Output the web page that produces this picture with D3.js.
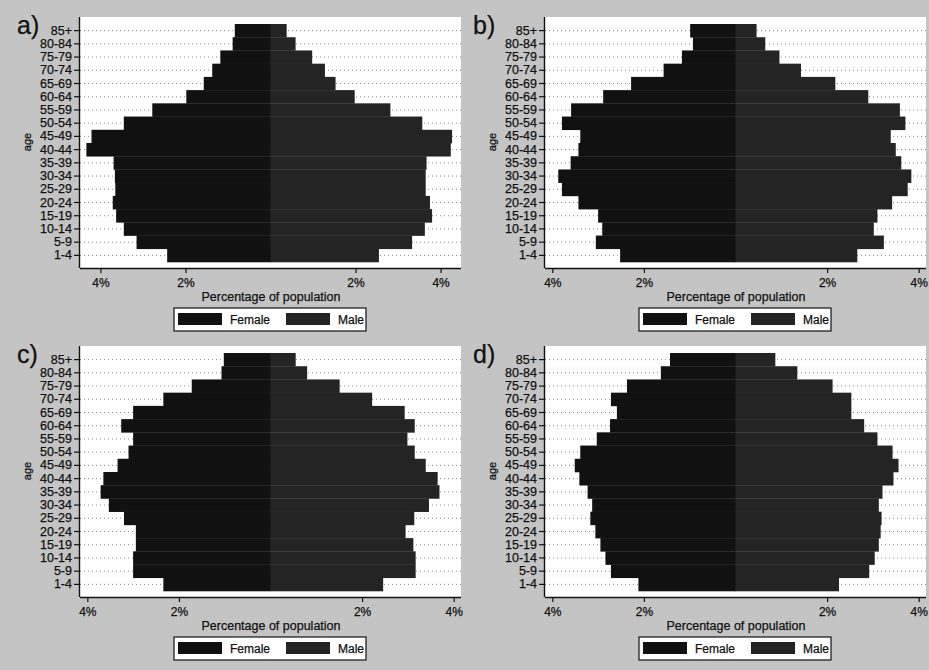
<!DOCTYPE html>
<html>
<head>
<meta charset="utf-8">
<script src="https://cdn.jsdelivr.net/npm/d3@7/dist/d3.min.js"></script>
<style>
  body { margin: 0; background: #c4c4c4; }
  text { font-family: "Liberation Sans", Arial, sans-serif; fill: #111; stroke: #111; stroke-width: 0.25px; }
</style>
</head>
<body>
<div id="chart"></div>
<script>
"use strict";

// age groups, youngest first
var ageGroups = ["1-4","5-9","10-14","15-19","20-24","25-29","30-34","35-39","40-44",
  "45-49","50-54","55-59","60-64","65-69","70-74","75-79","80-84","85+"];

// percentage of population per age group
var femaleA = [2.43,3.15,3.45,3.63,3.71,3.65,3.66,3.69,4.33,4.21,3.45,2.78,1.98,1.57,1.37,1.18,0.89,0.84];
var maleA   = [2.55,3.33,3.63,3.80,3.75,3.65,3.65,3.67,4.24,4.27,3.57,2.82,1.98,1.53,1.28,0.98,0.59,0.38];
var femaleB = [2.52,3.05,2.91,3.00,3.43,3.79,3.87,3.60,3.43,3.39,3.79,3.59,2.89,2.28,1.57,1.17,0.93,0.99];
var maleB   = [2.66,3.24,3.02,3.10,3.42,3.76,3.84,3.62,3.50,3.39,3.71,3.59,2.90,2.18,1.43,0.96,0.65,0.46];
var femaleC = [2.34,3.00,3.00,2.94,2.94,3.20,3.53,3.71,3.65,3.34,3.10,3.00,3.26,3.00,2.34,1.72,1.07,1.02];
var maleC   = [2.46,3.17,3.17,3.12,2.95,3.14,3.46,3.69,3.65,3.39,3.15,2.99,3.15,2.93,2.22,1.51,0.80,0.55];
var femaleD = [2.12,2.72,2.84,2.95,3.06,3.17,3.13,3.23,3.41,3.51,3.39,3.03,2.74,2.59,2.72,2.37,1.63,1.43];
var maleD   = [2.26,2.92,3.04,3.13,3.17,3.19,3.13,3.21,3.45,3.56,3.43,3.10,2.81,2.53,2.53,2.12,1.35,0.87];

var xTicks = [-4, -2, 2, 4];
var panelLabels = ["a)", "b)", "c)", "d)"];
var legendLabels = ["Female", "Male"];

var panels = [
  {label: panelLabels[0], female: femaleA, male: maleA, ox: 0,   oy: 0,   lim: 4.48, lx: 17},
  {label: panelLabels[1], female: femaleB, male: maleB, ox: 465, oy: 0,   lim: 4.16, lx: 8},
  {label: panelLabels[2], female: femaleC, male: maleC, ox: 0,   oy: 329, lim: 4.16, lx: 17},
  {label: panelLabels[3], female: femaleD, male: maleD, ox: 465, oy: 329, lim: 4.16, lx: 8}
];

var colFemale = "#111111", colMale = "#242424";
var plot = {left: 80, right: 461, top: 17, bottom: 268};

var svg = d3.select("#chart").append("svg")
  .attr("width", 929)
  .attr("height", 670);

svg.append("rect").attr("width", 929).attr("height", 670).attr("fill", "#c4c4c4");

function drawPyramid(p) {
  var g = svg.append("g").attr("transform", "translate(" + p.ox + "," + p.oy + ")");

  var x = d3.scaleLinear().domain([-p.lim, p.lim]).range([plot.left, plot.right]);
  var y = d3.scaleBand().domain(ageGroups.slice().reverse())
    .range([plot.top + 7, plot.bottom - 6]).padding(0);

  g.append("rect")
    .attr("x", plot.left).attr("y", plot.top)
    .attr("width", plot.right - plot.left).attr("height", plot.bottom - plot.top)
    .attr("fill", "#fff");

  // dotted grid
  g.selectAll(".grid").data(ageGroups).enter().append("line")
    .attr("x1", plot.left).attr("x2", plot.right)
    .attr("y1", function(d) { return y(d) + y.bandwidth() / 2; })
    .attr("y2", function(d) { return y(d) + y.bandwidth() / 2; })
    .attr("stroke", "#888").attr("stroke-width", 1).attr("stroke-dasharray", "1,3");

  var rows = ageGroups.map(function(a, i) { return {age: a, f: p.female[i], m: p.male[i]}; });

  g.selectAll(".fem").data(rows).enter().append("rect")
    .attr("x", function(d) { return x(-d.f); })
    .attr("width", function(d) { return x(0) - x(-d.f) + 0.5; })
    .attr("y", function(d) { return y(d.age); })
    .attr("height", y.bandwidth() + 0.3)
    .attr("fill", colFemale);

  g.selectAll(".mal").data(rows).enter().append("rect")
    .attr("x", x(0))
    .attr("width", function(d) { return x(d.m) - x(0); })
    .attr("y", function(d) { return y(d.age); })
    .attr("height", y.bandwidth() + 0.3)
    .attr("fill", colMale);

  // axes
  var xAxis = d3.axisBottom(x).tickValues(xTicks).tickSize(5)
    .tickFormat(function(d) { return Math.abs(d) + "%"; });
  var gx = g.append("g").attr("transform", "translate(0," + plot.bottom + ")").call(xAxis);
  gx.select(".domain").attr("d", "M" + plot.left + ",0.5H" + plot.right).attr("stroke", "#111").attr("stroke-width", 1.4);
  gx.selectAll(".tick line").attr("stroke", "#111").attr("stroke-width", 1.2);
  gx.selectAll(".tick text").attr("font-size", "12px").attr("dy", "0.95em").attr("y", 8);

  var yAxis = d3.axisLeft(y).tickSize(6).tickPadding(2);
  var gy = g.append("g").attr("transform", "translate(" + plot.left + ",0)").call(yAxis);
  gy.select(".domain").attr("d", "M-0.5," + plot.top + "V" + plot.bottom).attr("stroke", "#111").attr("stroke-width", 1.4);
  gy.selectAll(".tick line").attr("stroke", "#111").attr("stroke-width", 1.2);
  gy.selectAll(".tick text").attr("font-size", "12.5px");

  g.append("text")
    .attr("transform", "translate(31,142) rotate(-90)")
    .attr("text-anchor", "middle").attr("font-size", "11px")
    .text("age");

  g.append("text")
    .attr("x", (plot.left + plot.right) / 2 + 0.5).attr("y", 301)
    .attr("text-anchor", "middle").attr("font-size", "12.5px")
    .text("Percentage of population");

  g.append("text")
    .attr("x", p.lx).attr("y", 34)
    .attr("font-size", "25px")
    .text(p.label);

  // legend
  var lg = g.append("g").attr("transform", "translate(174,308)");
  lg.append("rect").attr("width", 192).attr("height", 23)
    .attr("fill", "#fff").attr("stroke", "#111").attr("stroke-width", 1.2);
  var items = [{t: legendLabels[0], c: colFemale, x: 4}, {t: legendLabels[1], c: colMale, x: 112}];
  lg.selectAll(".li").data(items).enter().append("rect")
    .attr("x", function(d) { return d.x; }).attr("y", 5)
    .attr("width", 44).attr("height", 12)
    .attr("fill", function(d) { return d.c; });
  lg.selectAll(".lt").data(items).enter().append("text")
    .attr("x", function(d) { return d.x + 52; }).attr("y", 16)
    .attr("font-size", "12px")
    .text(function(d) { return d.t; });
}

panels.forEach(drawPyramid);
</script>
</body>
</html>
